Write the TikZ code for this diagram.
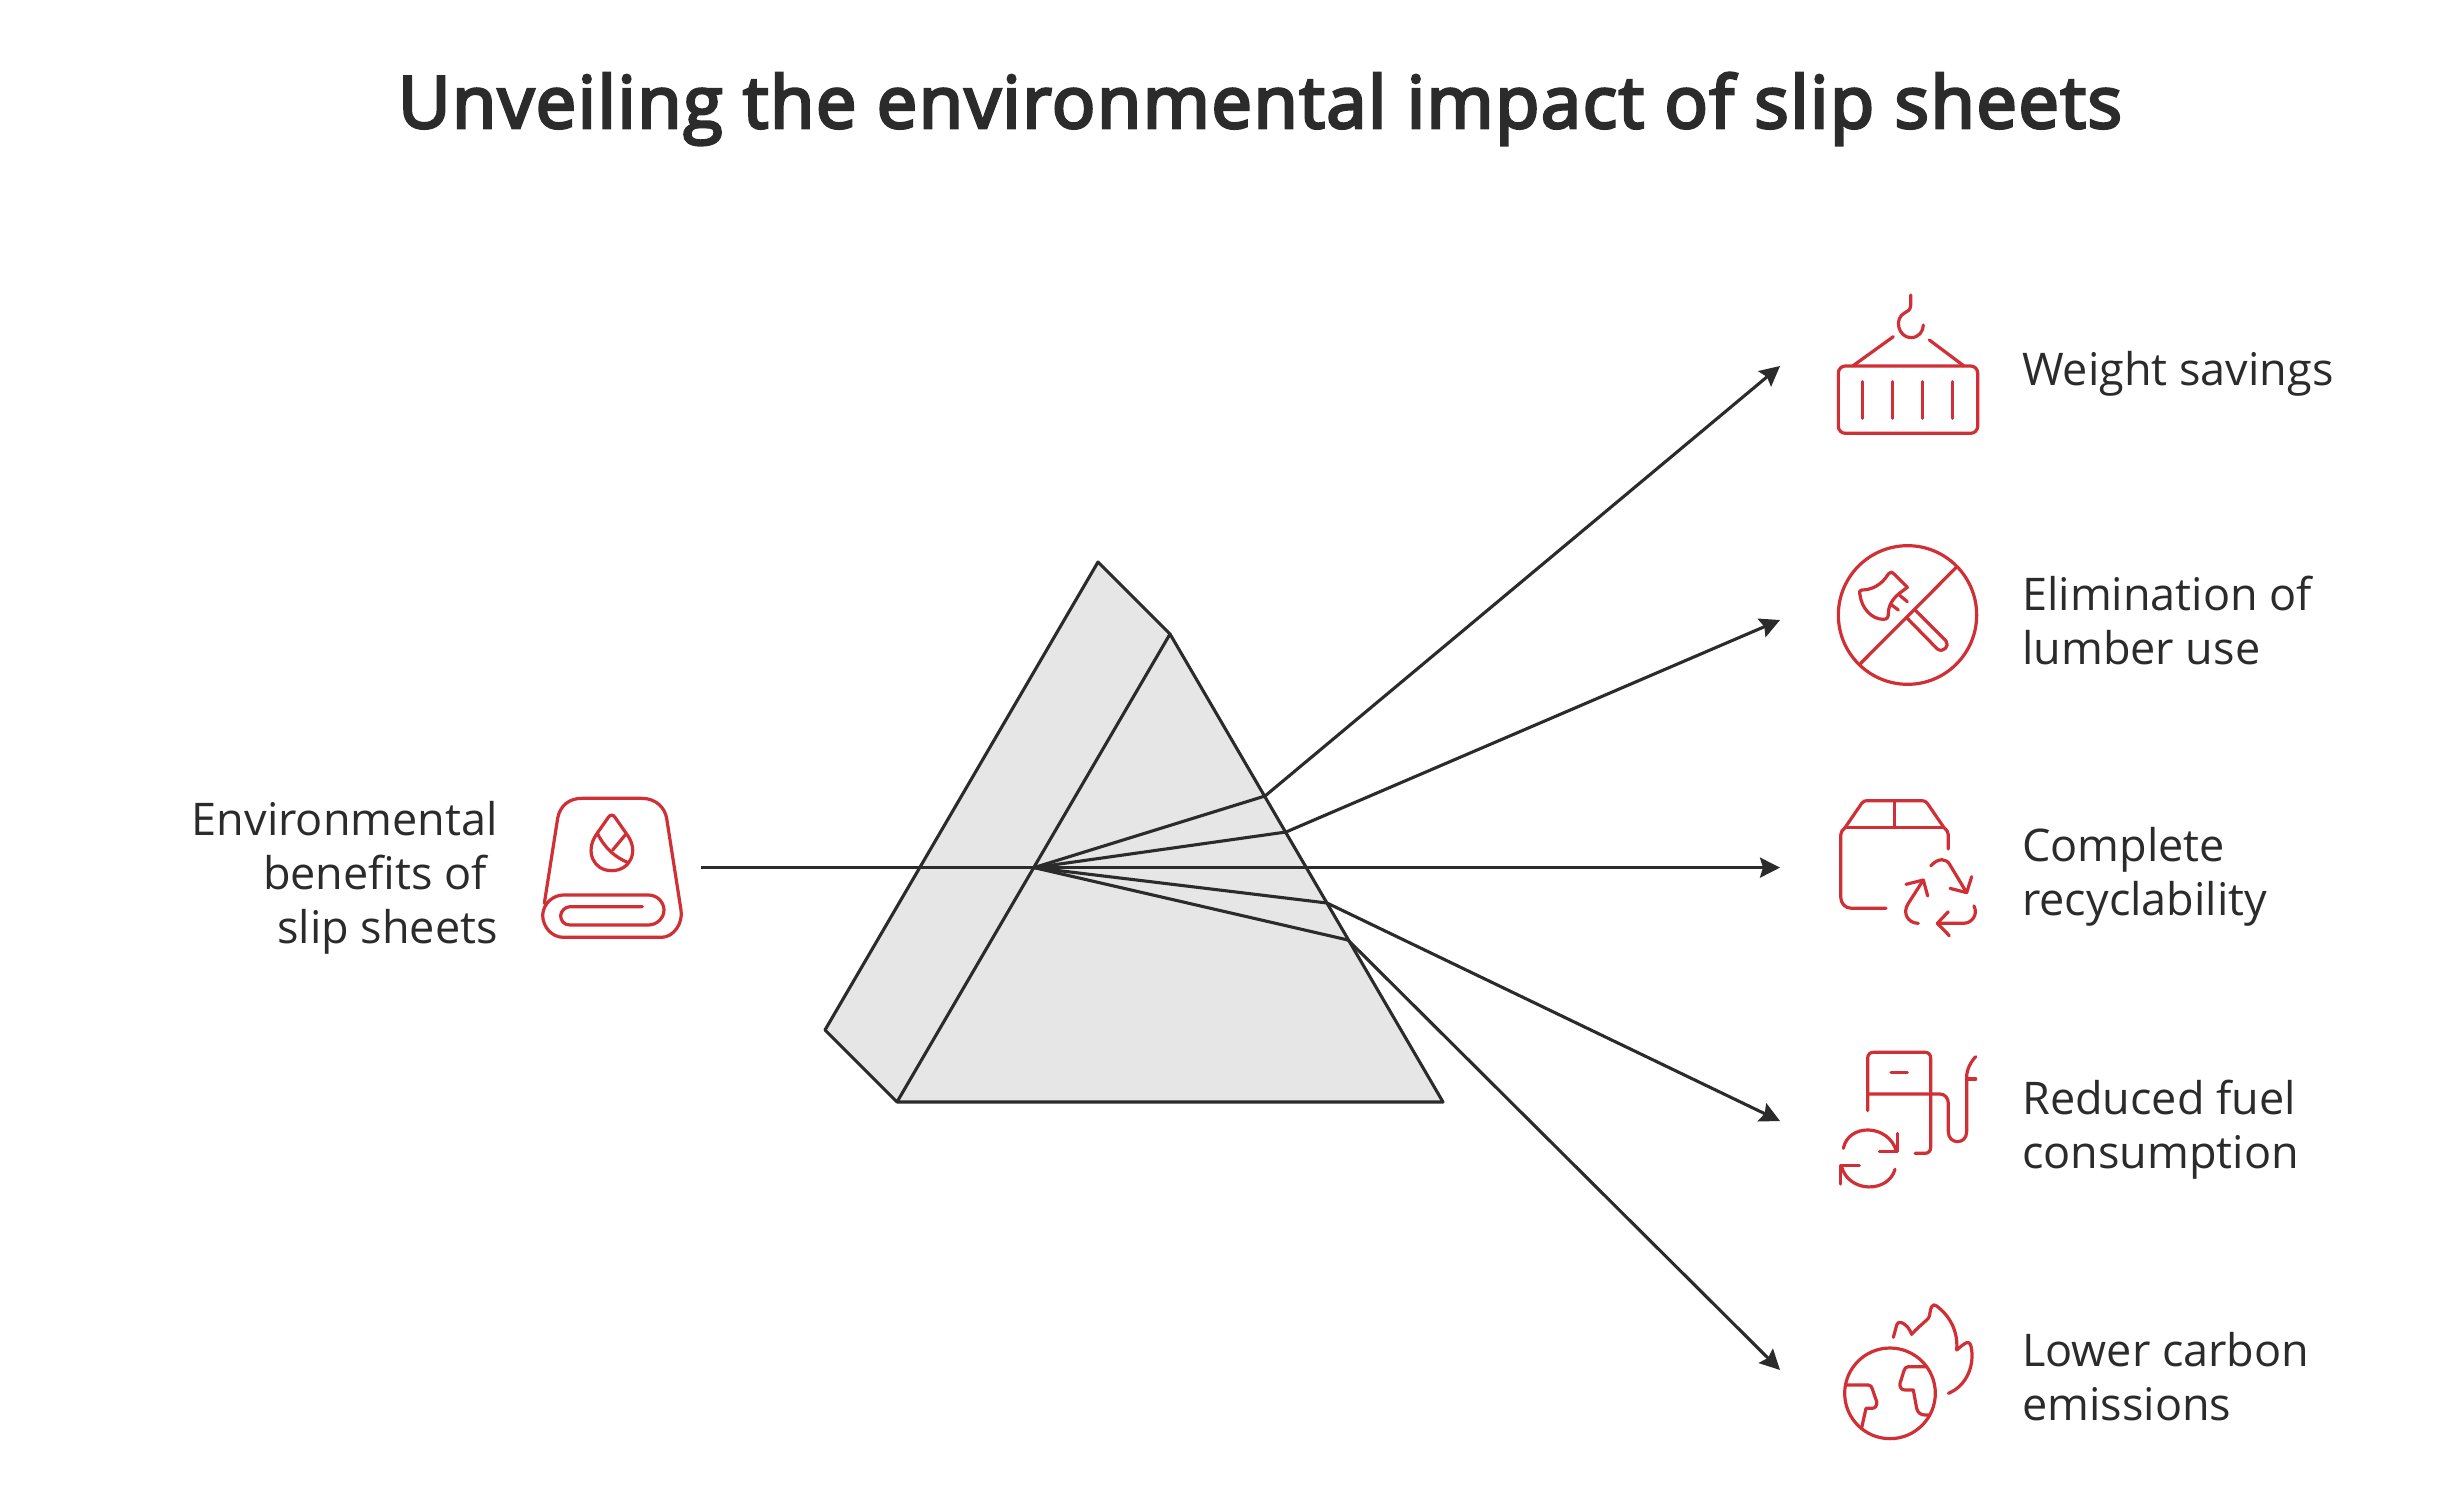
\documentclass[tikz,border=0pt]{standalone}
\usepackage{fontspec}
\setmainfont{Open Sans}
\newfontfamily\headfont{Open Sans}[FakeBold=4,LetterSpace=2.3]
\usetikzlibrary{arrows.meta,positioning}
\definecolor{inkgrey}{HTML}{2B2B2B}
\definecolor{iconred}{HTML}{D03035}
\definecolor{prismgrey}{HTML}{E6E6E6}
\tikzset{
  ray/.style={draw=inkgrey,line width=3.1pt},
  beam/.style={ray,-{Stealth[length=20pt,width=20pt,inset=3pt]}},
  label/.style={text=inkgrey,font=\fontsize{45}{54}\selectfont,align=left,inner sep=0pt},
  iconat/.style 2 args={shift={(#1,#2)},x=0.3333pt,y=-0.3333pt,draw=iconred,line width=3.2pt,line cap=round,line join=round},
}
\begin{document}
\begin{tikzpicture}[x=1pt,y=-1pt]
\useasboundingbox[fill=white] (0,0) rectangle (2448,1499);
\node[text=inkgrey,font=\headfont\fontsize{72}{86}\selectfont,inner sep=0pt] (title) at (1260,109) {Unveiling the environmental impact of slip sheets};
% prism
\coordinate (apex) at (1098,562);
\coordinate (apexfront) at (1170,634);
\coordinate (cornerright) at (1443,1102);
\coordinate (cornerfront) at (897,1102);
\coordinate (cornerback) at (825,1030);
\coordinate (focus) at (1034,867.6);
\coordinate (inlet) at (701,867.6);
\coordinate (exitA) at (1265,796);
\coordinate (exitB) at (1286,832);
\coordinate (exitD) at (1327,903);
\coordinate (exitE) at (1348,940);
\coordinate (endA) at (1780,366);
\coordinate (endB) at (1780,620);
\coordinate (endC) at (1780,867.6);
\coordinate (endD) at (1780,1121);
\coordinate (endE) at (1780,1370);
\path[fill=prismgrey] (apex)--(apexfront)--(cornerright)--(cornerfront)--(cornerback)--cycle;
\draw[ray,line join=round] (apexfront)--(apex)--(cornerback)--(cornerfront)--(apexfront)--(cornerright)--(cornerfront);
\draw[ray] (focus)--(exitA);
\draw[ray] (focus)--(exitB);
\draw[ray] (focus)--(exitD);
\draw[ray] (focus)--(exitE);
\draw[beam] (inlet)--(endC);
\draw[beam] (exitA)--(endA);
\draw[beam] (exitB)--(endB);
\draw[beam] (exitD)--(endD);
\draw[beam] (exitE)--(endE);
% labels
\node[label,align=right,anchor=east] (source) at (498,878) {Environmental\\benefits of\hspace{11pt}\null\\slip sheets};
\node[label,anchor=west] (weight) at (2022,374) {Weight savings};
\node[label,anchor=west] (lumber) at (2022,620) {Elimination of\\lumber use};
\node[label,anchor=west] (recycle) at (2022,877) {Complete\\recyclability};
\node[label,anchor=west] (fuel) at (2022,1130) {Reduced fuel\\consumption};
\node[label,anchor=west] (carbon) at (2022,1376.5) {Lower carbon\\emissions};
% sheet roll
\begin{scope}[iconat={520}{780}]
\draw (73,370)--(113,115) .. controls (120,75) and (150,55) .. (185,55)--(365,55) .. controls (410,55) and (435,85) .. (440,115)--(483,390) .. controls (490,430) and (460,472) .. (425,472)--(130,472) .. controls (95,472) and (68,440) .. (68,405) .. controls (70,370) and (100,345) .. (130,345)--(385,345) .. controls (415,345) and (432,370) .. (432,390) .. controls (432,415) and (410,435) .. (385,435)--(150,435) .. controls (130,435) and (122,420) .. (122,407) .. controls (122,395) and (135,380) .. (150,380)--(367,380);
\draw (265,112)--(228,165) .. controls (195,215) and (220,272) .. (275,272) .. controls (330,272) and (358,215) .. (322,165)--(285,112) .. controls (280,103) and (270,103) .. (265,112)--cycle;
\draw (232,160) .. controls (255,205) and (285,232) .. (325,248);
\draw (318,162)--(278,210);
\end{scope}
% container
\begin{scope}[iconat={1800}{270}]
\draw (332,75)--(332,105) .. controls (332,120) and (322,125) .. (315,128) .. controls (280,145) and (295,203) .. (333,203) .. controls (355,203) and (370,185) .. (370,165);
\draw (280,200)--(158,288);
\draw (388,210)--(492,288);
\draw[rounded corners=7pt] (115,288) rectangle (533,490);
\foreach \barx in {188,278,368,458} \draw (\barx,335)--(\barx,445);
\end{scope}
% axe
\begin{scope}[iconat={1800}{530}]
\draw (323,47) .. controls (437,47) and (530,140) .. (530,255) .. controls (530,370) and (437,463) .. (323,463) .. controls (208,463) and (115,370) .. (115,255) .. controls (115,140) and (208,47) .. (323,47)--cycle;
\draw (468,113)--(180,402);
\draw (322,172)--(282,132) .. controls (275,125) and (270,125) .. (265,132) .. controls (245,165) and (215,180) .. (185,180) .. controls (178,180) and (178,185) .. (180,195) .. controls (185,235) and (215,268) .. (250,268) .. controls (262,268) and (265,262) .. (265,250) .. controls (265,225) and (280,205) .. (298,190)--cycle;
\draw (298,195)--(322,215);
\draw (275,225)--(295,240);
\draw (345,240)--(438,333) .. controls (450,347) and (430,370) .. (412,357)--(322,265);
\end{scope}
% box
\begin{scope}[iconat={1800}{780}]
\draw (258,385)--(155,385) .. controls (135,385) and (122,370) .. (122,350)--(122,165) .. controls (122,155) and (128,150) .. (135,143)--(185,70) .. controls (190,64) and (195,62) .. (200,62)--(365,62) .. controls (372,62) and (378,64) .. (382,70)--(432,143) .. controls (440,150) and (445,155) .. (445,165)--(445,207);
\draw (135,143)--(432,143);
\draw (283,62)--(283,143);
\draw (392,258) .. controls (415,232) and (440,235) .. (450,255)--(500,338);
\draw (515,290)--(500,338)--(450,325);
\draw (522,378) .. controls (535,405) and (515,430) .. (490,430)--(412,430);
\draw (445,395)--(412,430)--(448,467);
\draw (355,430) .. controls (325,430) and (305,400) .. (325,370)--(370,300);
\draw (318,313)--(370,300)--(383,348);
\end{scope}
% pump
\begin{scope}[iconat={1800}{1040}]
\draw (203,212)--(203,55) .. controls (203,43) and (210,37) .. (220,37)--(375,37) .. controls (385,37) and (392,43) .. (392,55)--(392,322) .. controls (392,333) and (385,340) .. (375,340)--(345,340);
\draw (203,162)--(420,162) .. controls (435,162) and (445,175) .. (445,190)--(445,275) .. controls (445,315) and (500,315) .. (500,275)--(500,110) .. controls (500,90) and (512,65) .. (527,50);
\draw (500,117)--(527,117);
\draw (273,98)--(322,98);
\draw (130,325) .. controls (145,250) and (265,250) .. (290,335);
\draw (292,280)--(292,335)--(238,335);
\draw (285,388) .. controls (265,460) and (145,460) .. (124,378);
\draw (178,377)--(122,377)--(122,432);
\end{scope}
% globe
\begin{scope}[iconat={1800}{1290}]
\draw (270,174) .. controls (345,174) and (406,235) .. (406,310) .. controls (406,385) and (345,446) .. (270,446) .. controls (195,446) and (134,385) .. (134,310) .. controls (134,235) and (195,174) .. (270,174)--cycle;
\draw (137,285)--(205,285) .. controls (212,285) and (215,290) .. (217,297)--(230,335) .. controls (232,348) and (225,355) .. (215,355)--(198,355)--(185,413);
\draw (378,230)--(325,230) .. controls (318,230) and (314,235) .. (312,242)--(300,280) .. controls (298,292) and (305,300) .. (315,300)--(340,300)--(350,355) .. controls (353,368) and (362,375) .. (375,375)--(390,375);
\draw (280,142)--(290,105) .. controls (292,97) and (297,95) .. (305,98) .. controls (318,103) and (328,115) .. (335,133) .. controls (350,115) and (368,102) .. (385,85) .. controls (392,75) and (388,62) .. (395,50) .. controls (398,43) and (405,43) .. (410,48) .. controls (450,78) and (475,125) .. (470,180) .. controls (480,172) and (490,162) .. (500,158) .. controls (510,155) and (513,165) .. (515,180) .. controls (522,235) and (495,290) .. (445,310);
\end{scope}
\end{tikzpicture}
\end{document}
